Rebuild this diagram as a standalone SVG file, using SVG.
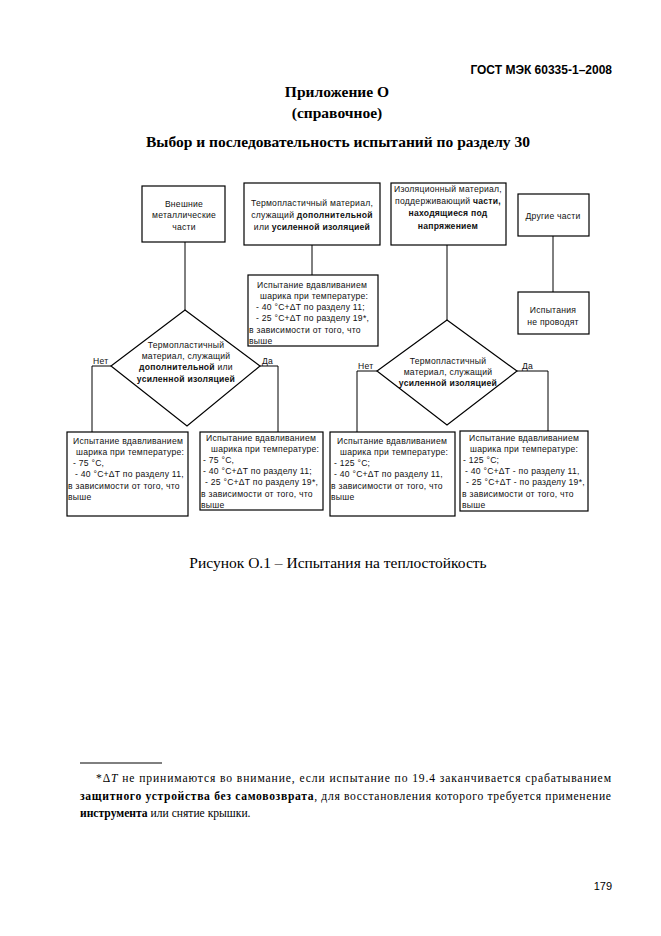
<svg xmlns="http://www.w3.org/2000/svg" width="661" height="936" viewBox="0 0 661 936">
<style>
.bg{fill:#fff}
.box{fill:#fff;stroke:#000;stroke-width:1.2}
.ln{fill:none;stroke:#000;stroke-width:1}
.t{font-family:"Liberation Sans",Arial,sans-serif;font-size:8.6px;fill:#111;letter-spacing:0.25px}
.c{text-anchor:middle}
.b{font-weight:bold}
.h{font-family:"Liberation Serif","Times New Roman",serif;font-weight:bold;font-size:15.5px;fill:#000;text-anchor:middle}
.s{font-family:"Liberation Serif","Times New Roman",serif;font-size:11.6px;fill:#000}
</style>
<rect class="bg" x="0" y="0" width="661" height="936"/>
<text x="612" y="74" style="font-family:'Liberation Sans',Arial,sans-serif;font-weight:bold;font-size:12px;text-anchor:end">ГОСТ МЭК 60335-1–2008</text>
<text class="h" x="337" y="97">Приложение О</text>
<text class="h" x="337" y="118">(справочное)</text>
<text class="h" x="338" y="147">Выбор и последовательность испытаний по разделу 30</text>

<g id="connectors">
<polyline class="ln" points="185,242 185,310"/>
<polyline class="ln" points="312,245 312,275"/>
<polyline class="ln" points="447,245 447,320"/>
<polyline class="ln" points="553,236 553,292"/>
<polyline class="ln" points="111,366 92,366 92,432"/>
<polyline class="ln" points="260,366 278,366 278,432"/>
<polyline class="ln" points="377,371 357,371 357,432"/>
<polyline class="ln" points="517,371 548,371 548,431"/>
<text class="t" x="93" y="364">Нет</text>
<text class="t" x="262" y="364">Да</text>
<text class="t" x="358" y="369">Нет</text>
<text class="t" x="522" y="369">Да</text>
</g>

<g id="n1">
<rect class="box" x="142" y="186" width="83" height="56"/>
<text class="t c" x="184" y="207">Внешние</text>
<text class="t c" x="184" y="218">металлические</text>
<text class="t c" x="184" y="230">части</text>
</g>
<g id="n2">
<rect class="box" x="244" y="183" width="136" height="62"/>
<text class="t c" x="312" y="206">Термопластичный материал,</text>
<text class="t c" x="312" y="218">служащий <tspan class="b">дополнительной</tspan></text>
<text class="t c" x="312" y="230">или <tspan class="b">усиленной изоляцией</tspan></text>
</g>
<g id="n3">
<rect class="box" x="391" y="183" width="115" height="62"/>
<text class="t c" x="448" y="192">Изоляционный материал,</text>
<text class="t c" x="448" y="204">поддерживающий <tspan class="b">части,</tspan></text>
<text class="t c b" x="448" y="216">находящиеся под</text>
<text class="t c b" x="448" y="229">напряжением</text>
</g>
<g id="n4">
<rect class="box" x="518" y="194" width="71" height="42"/>
<text class="t c" x="553" y="219">Другие части</text>
</g>
<g id="n5">
<rect class="box" x="248" y="275" width="130" height="71"/>
<text class="t" x="257" y="288">Испытание вдавливанием</text>
<text class="t" x="260" y="299">шарика при температуре:</text>
<text class="t" x="256" y="310">- 40 °C+ΔT по разделу 11;</text>
<text class="t" x="256" y="321">- 25 °C+ΔT по  разделу 19*,</text>
<text class="t" x="249" y="333">в зависимости от того, что</text>
<text class="t" x="249" y="344">выше</text>
</g>
<g id="n6">
<rect class="box" x="518" y="292" width="71" height="42"/>
<text class="t c" x="553" y="313">Испытания</text>
<text class="t c" x="553" y="325">не проводят</text>
</g>
<g id="d1">
<polygon class="box" points="185,310 260,366 187,426 111,366"/>
<text class="t c" x="186" y="348">Термопластичный</text>
<text class="t c" x="186" y="359">материал, служащий</text>
<text class="t c" x="186" y="370"><tspan class="b">дополнительной</tspan> или</text>
<text class="t c b" x="186" y="382">усиленной изоляцией</text>
</g>
<g id="d2">
<polygon class="box" points="447,320 517,371 447,425 377,371"/>
<text class="t c" x="448" y="364">Термопластичный</text>
<text class="t c" x="448" y="375">материал, служащий</text>
<text class="t c b" x="448" y="386">усиленной изоляцией</text>
</g>
<g id="b1">
<rect class="box" x="67" y="432" width="121" height="84"/>
<text class="t" x="73" y="444">Испытание вдавливанием</text>
<text class="t" x="76" y="455">шарика при температуре:</text>
<text class="t" x="73" y="466">- 75 °C,</text>
<text class="t" x="75" y="477">- 40 °C+ΔT по разделу 11,</text>
<text class="t" x="68" y="489">в зависимости от того, что</text>
<text class="t" x="68" y="500">выше</text>
</g>
<g id="b2">
<rect class="box" x="200" y="432" width="123" height="78"/>
<text class="t" x="206" y="441">Испытание вдавливанием</text>
<text class="t" x="211" y="452">шарика при температуре:</text>
<text class="t" x="203" y="463">- 75 °C,</text>
<text class="t" x="203" y="474">- 40 °C+ΔT по разделу 11;</text>
<text class="t" x="205" y="485">- 25 °C+ΔT по разделу 19*,</text>
<text class="t" x="201" y="497">в зависимости от того, что</text>
<text class="t" x="201" y="508">выше</text>
</g>
<g id="b3">
<rect class="box" x="330" y="432" width="125" height="84"/>
<text class="t" x="337" y="444">Испытание вдавливанием</text>
<text class="t" x="340" y="455">шарика при температуре:</text>
<text class="t" x="334" y="466">- 125 °C;</text>
<text class="t" x="334" y="477">- 40 °C+ΔT по  разделу 11,</text>
<text class="t" x="331" y="489">в зависимости от того, что</text>
<text class="t" x="331" y="500">выше</text>
</g>
<g id="b4">
<rect class="box" x="460" y="431" width="128" height="80"/>
<text class="t" x="469" y="441">Испытание вдавливанием</text>
<text class="t" x="470" y="452">шарика при температуре:</text>
<text class="t" x="463" y="463">- 125 °C;</text>
<text class="t" x="465" y="474">- 40 °C+ΔT - по разделу 11,</text>
<text class="t" x="466" y="485">- 25 °C+ΔT - по разделу 19*,</text>
<text class="t" x="462" y="497">в зависимости от того, что</text>
<text class="t" x="462" y="508">выше</text>
</g>

<text x="338" y="568" style="font-family:'Liberation Serif','Times New Roman',serif;font-size:15.5px;text-anchor:middle">Рисунок О.1 – Испытания на теплостойкость</text>

<line class="ln" x1="80" y1="763" x2="162" y2="763"/>
<text class="s" x="96" y="782" textLength="515" lengthAdjust="spacing">*Δ<tspan font-style="italic">T</tspan> не принимаются во внимание, если испытание по 19.4 заканчивается срабатыванием</text>
<text class="s" x="80" y="800" textLength="531" lengthAdjust="spacing"><tspan font-weight="bold">защитного устройства без самовозврата</tspan>, для восстановления которого требуется применение</text>
<text class="s" x="80" y="817"><tspan font-weight="bold">инструмента</tspan> или снятие крышки.</text>
<text x="612" y="890" style="font-family:'Liberation Sans',Arial,sans-serif;font-size:11px;text-anchor:end">179</text>
</svg>
